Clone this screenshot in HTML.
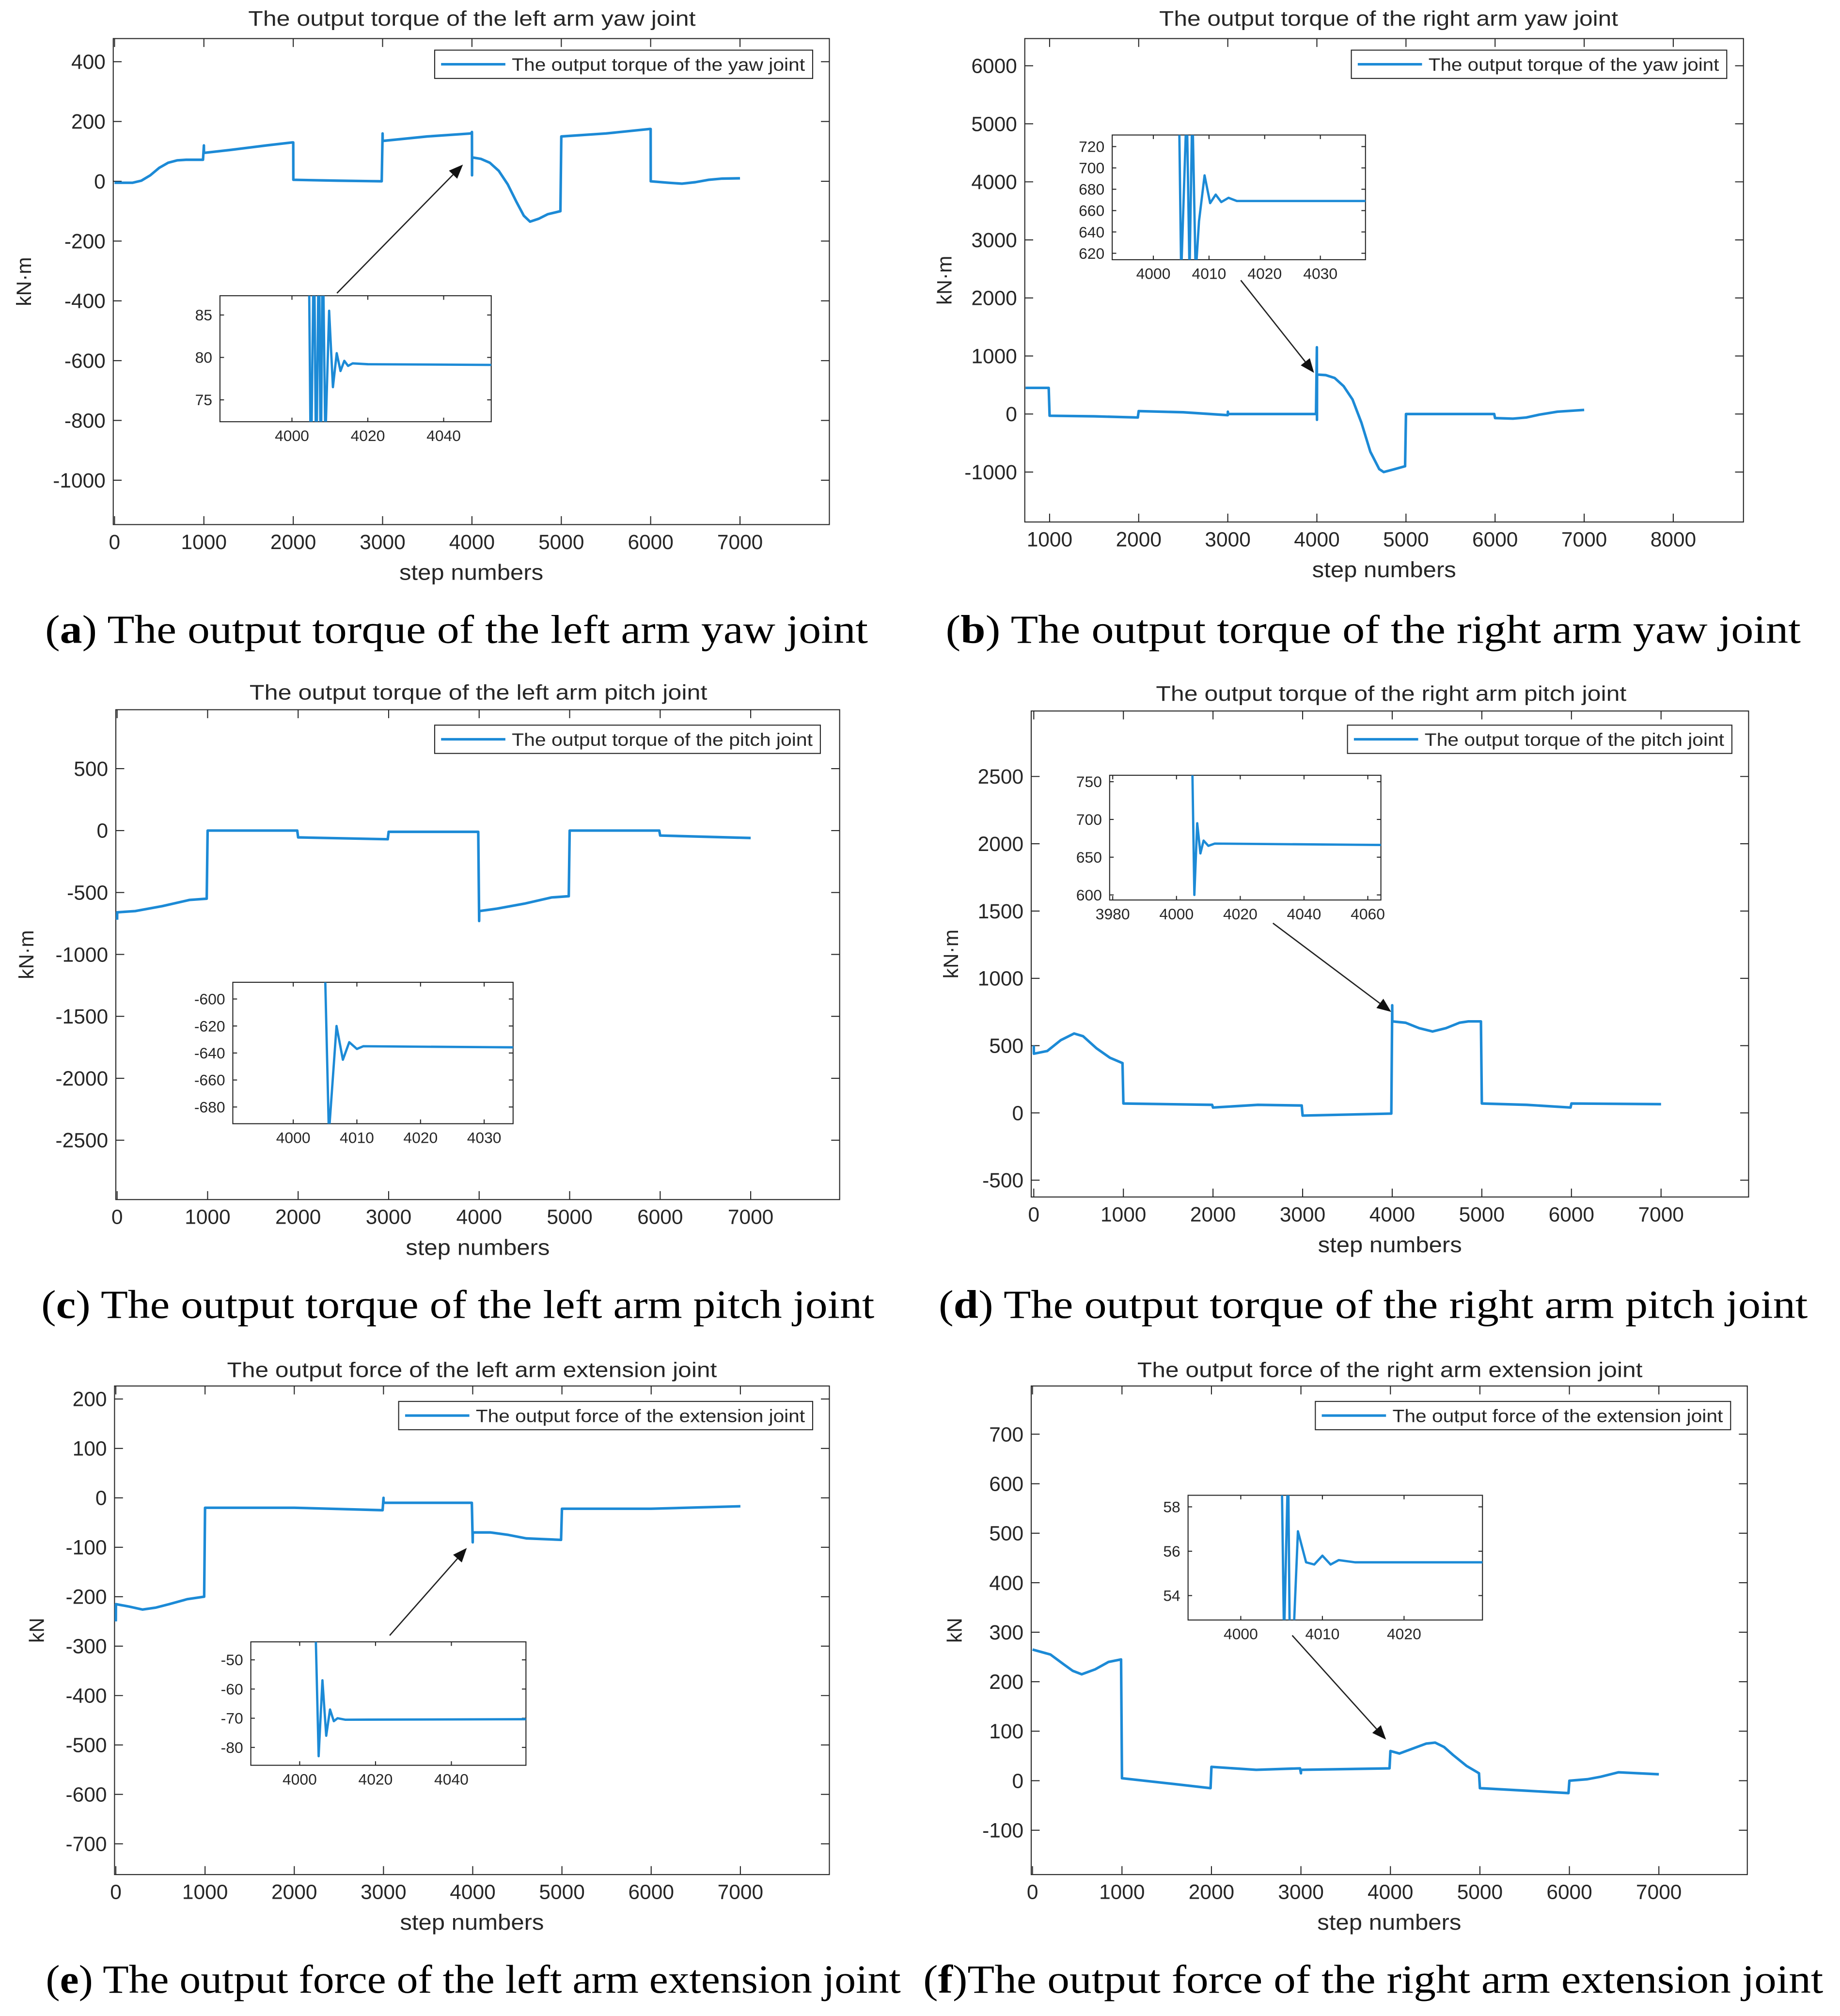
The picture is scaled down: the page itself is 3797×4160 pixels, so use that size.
<!DOCTYPE html>
<html><head><meta charset="utf-8"><style>
html,body{margin:0;padding:0;background:#fff}
svg{display:block}
text{font-family:"Liberation Sans",sans-serif;fill:#262626}
.cap{font-family:"Liberation Serif",serif;fill:#000}
</style></head><body>
<svg id="fig" xmlns="http://www.w3.org/2000/svg" width="3797" height="4160" viewBox="0 0 1431 1568">
<rect width="1431" height="1568" fill="#fff"/>
</svg>
<script>
// ---------- data (step, value) ----------
const seriesA=[[0,-5],[200,-5],[300,2],[400,20],[500,45],[600,62],[700,70],[800,72],[990,72],[1000,120],[1001,95],[1300,105],[1700,120],[1990,130],[2000,130],[2001,5],[2500,2],[2990,0],[3000,160],[3001,135],[3500,150],[3990,160],[4000,165],[4001,20],[4002,80],[4100,75],[4200,62],[4300,35],[4400,-10],[4500,-70],[4580,-115],[4650,-135],[4750,-125],[4850,-110],[4990,-100],[5000,150],[5500,160],[5990,175],[6000,175],[6001,0],[6200,-5],[6350,-8],[6500,-3],[6650,5],[6800,9],[7000,10]];
const insetA=[[4004.4,95],[4005,65],[4005.8,95],[4006.4,65],[4007.1,95],[4007.6,65],[4008.1,95],[4008.8,70],[4009.8,85.5],[4010.8,76.5],[4011.8,80.5],[4012.8,78.4],[4013.8,79.6],[4014.8,79],[4016,79.3],[4020,79.2],[4060,79.1]];
const seriesB=[[730,450],[990,450],[1000,-30],[1500,-40],[1990,-60],[2000,50],[2500,30],[3000,-20],[3001,40],[3002,0],[3990,0],[4000,1150],[4001,-100],[4002,680],[4100,670],[4200,620],[4300,480],[4400,250],[4500,-150],[4600,-650],[4700,-950],[4750,-1000],[4850,-960],[4990,-900],[5000,0],[5990,0],[6000,-70],[6200,-80],[6350,-60],[6500,-10],[6700,40],[7000,70]];
const insetB=[[4004.6,760],[4005,600],[4006,760],[4006.5,600],[4007,760],[4007.6,600],[4008.2,650],[4009.2,693],[4010.2,667],[4011.2,675],[4012.2,668],[4013.5,672],[4015,669],[4045,669]];
const seriesC=[[0,-720],[1,-660],[200,-650],[500,-610],[800,-560],[990,-550],[1000,0],[1990,0],[2000,-55],[2990,-70],[3000,-10],[3990,-10],[4000,-730],[4001,-650],[4200,-630],[4500,-590],[4800,-540],[4990,-530],[5000,0],[5990,0],[6000,-40],[7000,-60]];
const insetC=[[4005,-580],[4005.6,-700],[4006.8,-620],[4007.8,-645],[4008.8,-632],[4010,-637],[4011,-635],[4040,-636]];
const seriesD=[[0,500],[1,440],[150,460],[300,540],[450,590],[550,570],[700,480],[850,410],[990,370],[1000,70],[1990,60],[2000,40],[2500,60],[2990,55],[3000,-20],[3990,-5],[4000,800],[4001,680],[4150,670],[4300,630],[4450,605],[4600,630],[4750,670],[4850,680],[4990,680],[5000,70],[5500,60],[5990,40],[6000,70],[7000,65]];
const insetD=[[4005,760],[4005.6,600],[4006.5,695],[4007.5,655],[4008.5,672],[4010,665],[4012,668],[4070,666]];
const seriesE=[[0,-250],[1,-215],[150,-220],[300,-226],[450,-222],[600,-215],[800,-205],[990,-200],[1000,-20],[2000,-20],[2990,-25],[3000,0],[3001,-10],[3990,-10],[4000,-90],[4001,-70],[4200,-70],[4400,-75],[4600,-82],[4990,-85],[5000,-22],[6000,-22],[7000,-17]];
const insetE=[[4004.2,-40],[4005,-83],[4006,-57],[4007,-76],[4008,-67],[4009,-71],[4010,-70],[4012,-70.5],[4070,-70.3]];
const seriesF=[[0,265],[200,255],[350,235],[450,222],[550,215],[700,225],[850,240],[990,245],[1000,5],[1500,-5],[1990,-15],[2000,28],[2500,22],[2990,25],[3000,15],[3001,22],[3990,25],[4000,60],[4100,55],[4250,65],[4400,75],[4500,77],[4600,68],[4700,52],[4850,30],[4990,15],[5000,-15],[5500,-20],[5990,-25],[6000,0],[6200,3],[6350,8],[6550,17],[7000,13]];
const insetF=[[4005,60],[4005.3,52],[4005.8,60],[4006,52],[4006.5,52.5],[4007,56.9],[4008,55.5],[4009,55.4],[4010,55.8],[4011,55.4],[4012,55.6],[4014,55.5],[4040,55.5]];
const xTicks=[0,1000,2000,3000,4000,5000,6000,7000];
const xTicksB=[1000,2000,3000,4000,5000,6000,7000,8000];
const yTicksA=[400,200,0,-200,-400,-600,-800,-1000];
const yTicksB=[6000,5000,4000,3000,2000,1000,0,-1000];
const yTicksC=[500,0,-500,-1000,-1500,-2000,-2500];
const yTicksD=[2500,2000,1500,1000,500,0,-500];
const yTicksE=[200,100,0,-100,-200,-300,-400,-500,-600,-700];
const yTicksF=[700,600,500,400,300,200,100,0,-100];

const NS='http://www.w3.org/2000/svg';
const svg=document.getElementById('fig');
const COL='#1c8ad6';
let clipId=0;
function mk(tag,attrs,parent){const e=document.createElementNS(NS,tag);for(const k in attrs)e.setAttribute(k,attrs[k]);(parent||svg).appendChild(e);return e;}
function txt(s,x,y,size,anchor,parent,extra){const t=mk('text',Object.assign({x:x,y:y,'font-size':size,'text-anchor':anchor||'middle'},extra||{}),parent);t.textContent=s;return t;}

function axes(g,box,x0,kx,y0,ky,xt,yt,fs,name){
  const X=v=>x0+v*kx, Y=v=>y0-v*ky;
  const r=mk('rect',{x:box[0],y:box[1],width:box[2]-box[0],height:box[3]-box[1],fill:'#fff',stroke:'#262626','stroke-width':0.8},g);
  
  
  const tl=(box[3]-box[1])*0.012+2;
  xt.forEach(v=>{const px=X(v);
    mk('line',{x1:px,x2:px,y1:box[3],y2:box[3]-tl,stroke:'#262626','stroke-width':0.8},g);
    mk('line',{x1:px,x2:px,y1:box[1],y2:box[1]+tl,stroke:'#262626','stroke-width':0.8},g);
    const t=txt(String(v),px,box[3]+fs+3,fs,'middle',g);
    
    
  });
  yt.forEach(v=>{const py=Y(v);
    mk('line',{x1:box[0],x2:box[0]+tl,y1:py,y2:py,stroke:'#262626','stroke-width':0.8},g);
    mk('line',{x1:box[2],x2:box[2]-tl,y1:py,y2:py,stroke:'#262626','stroke-width':0.8},g);
    const t=txt(String(v),box[0]-6,py+fs*0.35,fs,'end',g);
    
    
  });
  return {X,Y};
}
function line(g,data,X,Y,box,name,w){
  const id='c'+(clipId++);
  const cp=mk('clipPath',{id:id},g);
  mk('rect',{x:box[0],y:box[1],width:box[2]-box[0],height:box[3]-box[1]},cp);
  const d=data.map((p,i)=>(i?'L':'M')+X(p[0]).toFixed(2)+','+Y(p[1]).toFixed(2)).join('');
  const p=mk('path',{d:d,fill:'none',stroke:COL,'stroke-width':w||2,'stroke-linejoin':'round','clip-path':'url(#'+id+')'},g);
  
  
}
function arrow(g,x1,y1,x2,y2){
  const a=Math.atan2(y2-y1,x2-x1),L=11,W=4.5;
  const bx=x2-L*Math.cos(a),by=y2-L*Math.sin(a);
  const l=mk('line',{x1:x1,y1:y1,x2:bx,y2:by,stroke:'#222','stroke-width':1},g);
  
  
  mk('polygon',{points:[x2,y2,bx-W*Math.sin(a),by+W*Math.cos(a),bx+W*Math.sin(a),by-W*Math.cos(a)].join(','),fill:'#111'},g);
}
function legend(g,box,label){
  const r=mk('rect',{x:box[0],y:box[1],width:box[2]-box[0],height:box[3]-box[1],fill:'#fff',stroke:'#262626','stroke-width':0.8},g);
  
  
  const cy=(box[1]+box[3])/2;
  mk('line',{x1:box[0]+5,x2:box[0]+55,y1:cy,y2:cy,stroke:COL,'stroke-width':2},g);
  const t=txt(label,box[0]+60,cy+5,14,'start',g,{textLength:box[2]-box[0]-66,lengthAdjust:'spacingAndGlyphs'});
  
  
}

const panels=[
 {n:'panel-a',box:[88,30,645,408],x0:89,kx:0.0695,y0:141,ky:0.2325,xt:xTicks,yt:yTicksA,data:seriesA,
  title:'The output torque of the left arm yaw joint',tx:367,ty:20,tw:348,leg:[338,39,632,61],legT:'The output torque of the yaw joint',
  yl:'kN·m',ylx:24,
  ins:{box:[171,230,382,328],x0:227-4000*2.95,kx:2.95,y0:278+80*6.6,ky:6.6,xt:[4000,4020,4040],yt:[85,80,75],data:insetA},
  arr:[262,228,360,128],cap:['a',' The output torque of the left arm yaw joint'],cx:355,cy:500,cw:640},
 {n:'panel-b',box:[797,30,1356,406],x0:747,kx:0.0693,y0:322,ky:0.04514,xt:xTicksB,yt:yTicksB,data:seriesB,
  title:'The output torque of the right arm yaw joint',tx:1080,ty:20,tw:357,leg:[1051,39,1343,61],legT:'The output torque of the yaw joint',
  yl:'kN·m',ylx:740,
  ins:{box:[865,105,1062,202],x0:897-4000*4.33,kx:4.33,y0:114+720*0.83,ky:0.83,xt:[4000,4010,4020,4030],yt:[720,700,680,660,640,620],data:insetB},
  arr:[965,218,1022,290],cap:['b',' The output torque of the right arm yaw joint'],cx:1068,cy:500,cw:665},
 {n:'panel-c',box:[90,552,653,933],x0:91,kx:0.0704,y0:646,ky:0.09633,xt:xTicks,yt:yTicksC,data:seriesC,
  title:'The output torque of the left arm pitch joint',tx:372,ty:544,tw:356,leg:[338,564,638,586],legT:'The output torque of the pitch joint',
  yl:'kN·m',ylx:26,
  ins:{box:[181,764,399,874],x0:228-4000*4.95,kx:4.95,y0:777-600*1.05,ky:1.05,xt:[4000,4010,4020,4030],yt:[-600,-620,-640,-660,-680],data:insetC},
  arr:null,cap:['c',' The output torque of the left arm pitch joint'],cx:356,cy:1025,cw:648},
 {n:'panel-d',box:[802,553,1360,931],x0:804,kx:0.0697,y0:865.6,ky:0.10467,xt:xTicks,yt:yTicksD,data:seriesD,
  title:'The output torque of the right arm pitch joint',tx:1082,ty:545,tw:366,leg:[1048,564,1347,586],legT:'The output torque of the pitch joint',
  yl:'kN·m',ylx:745,
  ins:{box:[863,603,1074,700],x0:915-4000*2.48,kx:2.48,y0:608+750*0.587,ky:0.587,xt:[3980,4000,4020,4040,4060],yt:[750,700,650,600],data:insetD},
  arr:[990,718,1082,787],cap:['d',' The output torque of the right arm pitch joint'],cx:1068,cy:1025,cw:676},
 {n:'panel-e',box:[89,1078,645,1458],x0:90,kx:0.0694,y0:1165,ky:0.3844,xt:xTicks,yt:yTicksE,data:seriesE,
  title:'The output force of the left arm extension joint',tx:367,ty:1071,tw:381,leg:[310,1090,632,1112],legT:'The output force of the extension joint',
  yl:'kN',ylx:34,
  ins:{box:[195,1277,409,1373],x0:233-4000*2.95,kx:2.95,y0:1291-50*2.27,ky:2.27,xt:[4000,4020,4040],yt:[-50,-60,-70,-80],data:insetE},
  arr:[303,1272,363,1204],cap:['e',' The output force of the left arm extension joint'],cx:368,cy:1550,cw:665},
 {n:'panel-f',box:[802,1078,1359,1458],x0:803,kx:0.0696,y0:1385,ky:0.385,xt:xTicks,yt:yTicksF,data:seriesF,
  title:'The output force of the right arm extension joint',tx:1081,ty:1071,tw:393,leg:[1023,1090,1346,1112],legT:'The output force of the extension joint',
  yl:'kN',ylx:748,
  ins:{box:[924,1163,1153,1260],x0:965-4000*6.35,kx:6.35,y0:1172+58*17.25,ky:17.25,xt:[4000,4010,4020],yt:[58,56,54],data:insetF},
  arr:[1005,1272,1078,1353],cap:['f','The output force of the right arm extension joint'],cx:1068,cy:1550,cw:700}
];

panels.forEach(P=>{
  const g=mk('g',{});
  
  
  const m=axes(g,P.box,P.x0,P.kx,P.y0,P.ky,P.xt,P.yt,16,P.n);
  line(g,P.data,m.X,m.Y,P.box,P.n+'-series',2);
  const t=txt(P.title,P.tx,P.ty,16.5,'middle',g,{textLength:P.tw,lengthAdjust:'spacingAndGlyphs'});
  
  
  const xl=txt('step numbers',(P.box[0]+P.box[2])/2,P.box[3]+43,17,'middle',g,{textLength:112,lengthAdjust:'spacingAndGlyphs'});
  
  
  const cyl=(P.box[1]+P.box[3])/2;
  const yl=txt(P.yl,P.ylx,cyl,16,'middle',g,{transform:'rotate(-90 '+P.ylx+' '+cyl+')'});
  
  
  legend(g,P.leg,P.legT);
  const I=P.ins;
  const gi=mk('g',{},g);
  
  
  const mi=axes(gi,I.box,I.x0,I.kx,I.y0,I.ky,I.xt,I.yt,12,P.n+'-inset');
  line(gi,I.data,mi.X,mi.Y,I.box,P.n+'-inset-series',1.8);
  if(P.arr)arrow(g,P.arr[0],P.arr[1],P.arr[2],P.arr[3]);
  const c=mk('text',{x:P.cx,y:P.cy,'font-size':31,'text-anchor':'middle',class:'cap',textLength:P.cw,lengthAdjust:'spacingAndGlyphs'},g);
  
  
  c.appendChild(document.createTextNode('('));
  const b=mk('tspan',{'font-weight':'bold'},c);b.textContent=P.cap[0];
  c.appendChild(document.createTextNode(')'+P.cap[1]));
});
</script>
</body></html>
